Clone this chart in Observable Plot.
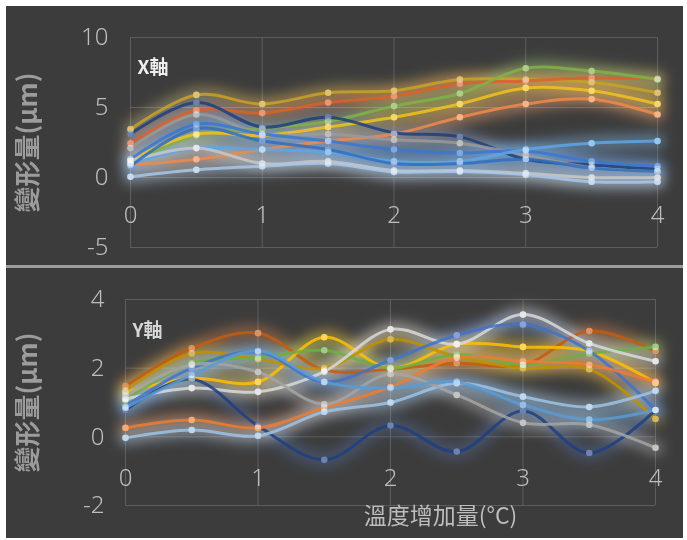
<!DOCTYPE html>
<html>
<head>
<meta charset="utf-8">
<script src="https://cdn.jsdelivr.net/npm/d3@7"></script>
<script src="https://cdn.jsdelivr.net/npm/@observablehq/plot@0.6"></script>
<style>
  html, body { margin: 0; padding: 0; background: #ffffff; }
  #wrap { position: relative; width: 687px; height: 540px; overflow: hidden; background: #ffffff; }
  #top { position: absolute; left: 6px; top: 6px; }
  #sep { position: absolute; left: 6px; top: 265px; width: 677px; height: 3px; background: #9c9c9c; }
  #bottom { position: absolute; left: 6px; top: 268px; }
  svg { display: block; }
</style>
</head>
<body>
<div id="wrap">
  <div id="top"></div>
  <div id="sep"></div>
  <div id="bottom"></div>
</div>
<script>
// ---------- data ----------
const temps = [0, 0.5, 1, 1.5, 2, 2.5, 3, 3.5, 4];

// X軸 panel series
const xNames = ["X1","X2","X3","X4","X5","X6","X7","X8","X9","X10","X11","X12"];
const xColors = ["#c9a227","#d9622b","#7fb34a","#f2c21e","#f08a4b","#1f3f7a","#9a9a9a","#3a78d0","#5ea6e8","#c8c8c8","#a8c8ea","#2f6fc0"];
const xS1  = [3.45, 5.9, 5.25, 6.05, 6.2, 7.0, 7.0, 6.8, 6.05];
const xS2  = [2.45, 4.8, 4.6, 5.35, 5.8, 6.7, 6.9, 7.1, 7.05];
const xS3  = [1.0, 3.0, 3.5, 4.0, 5.1, 6.0, 7.8, 7.6, 7.0];
const xS4  = [1.3, 3.1, 3.0, 3.6, 4.3, 5.25, 6.4, 6.2, 5.25];
const xS5  = [0.9, 1.3, 2.0, 2.6, 3.1, 4.3, 5.25, 5.6, 4.5];
const xS6  = [3.1, 5.35, 3.6, 4.3, 3.2, 2.9, 1.3, 0.9, 0.6];
const xS7  = [2.1, 4.5, 3.1, 3.1, 2.7, 2.45, 1.6, 0.7, 0.43];
const xS8  = [1.3, 3.8, 3.1, 2.6, 2.0, 1.75, 1.9, 1.15, 0.8];
const xS9  = [1.0, 2.1, 2.0, 1.8, 1.15, 1.15, 2.0, 2.45, 2.6];
const xS10 = [1.2, 2.1, 1.0, 1.15, 0.5, 0.5, 0.3, 0.0, 0.0];
const xS11 = [0.05, 0.55, 0.8, 1.0, 0.4, 0.43, 0.2, -0.3, -0.3];
const xS12 = [0.8, 3.5, 2.6, 2.0, 1.0, 1.0, 1.3, 0.67, 0.43];
const xSeries = [xS1,xS2,xS3,xS4,xS5,xS6,xS7,xS8,xS9,xS10,xS11,xS12];

// Y軸 panel series
const yNames = ["Y1","Y2","Y3","Y4","Y5","Y6","Y7","Y8","Y9","Y10","Y11"];
const yColors = ["#c55a11","#ffc000","#bf9000","#70ad47","#d9d9d9","#4472c4","#203f80","#ed7d31","#9dc3e6","#a5a5a5","#5b9bd5"];
const yS1  = [1.48, 2.58, 3.02, 1.95, 1.97, 2.14, 2.09, 3.08, 2.5];
const yS2  = [1.3, 1.7, 1.6, 2.9, 2.0, 2.7, 2.62, 2.5, 1.57];
const yS3  = [1.35, 2.43, 2.26, 2.0, 2.84, 2.33, 2.0, 1.97, 0.52];
const yS4  = [1.07, 2.14, 2.3, 2.52, 2.0, 2.4, 2.1, 2.43, 2.62];
const yS5  = [1.1, 1.42, 1.31, 1.9, 3.13, 2.7, 3.56, 2.72, 2.2];
const yS6  = [0.9, 2.0, 2.47, 1.6, 2.23, 2.96, 3.27, 2.5, 0.78];
const yS7  = [0.78, 1.68, 0.32, -0.67, 0.33, -0.43, 0.75, -0.47, 0.78];
const yS8  = [0.26, 0.49, 0.26, 0.85, 1.45, 2.3, 2.2, 2.1, 1.6];
const yS9  = [-0.03, 0.2, 0.03, 0.73, 1.0, 1.56, 1.17, 0.87, 1.34];
const yS10 = [1.2, 2.1, 1.89, 0.95, 1.83, 1.22, 0.41, 0.35, -0.32];
const yS11 = [0.85, 1.8, 2.5, 1.6, 1.42, 1.6, 0.93, 0.5, 0.78];
const ySeries = [yS1,yS2,yS3,yS4,yS5,yS6,yS7,yS8,yS9,yS10,yS11];

const xTickValues = [0, 1, 2, 3, 4];
const topYTicks = [-5, 0, 5, 10];
const bottomYTicks = [-2, 0, 2, 4];
const topTag = "X軸";
const bottomTag = "Y軸";
const yTitle = "變形量(μm)";
const xTitle = "溫度增加量(°C)";

// ---------- build ----------
function tidy(names, series) {
  const rows = [];
  series.forEach((vals, i) => vals.forEach((v, j) => rows.push({s: names[i], x: temps[j], v})));
  return rows;
}

const numFont = "'Noto Sans', 'DejaVu Sans', sans-serif";
const cjkFont = "'Noto Sans CJK TC', 'Noto Sans CJK SC', sans-serif";
const fmt = d => String(d);

function panel(o) {
  const svg = Plot.plot({
    width: 677,
    height: o.height,
    marginLeft: o.marginLeft,
    marginRight: o.marginRight,
    marginTop: o.marginTop,
    marginBottom: o.marginBottom,
    style: {background: "#3c3c3c", color: "#bdbdbd", fontFamily: numFont, overflow: "visible"},
    x: {domain: [0, 4]},
    y: {domain: o.yDomain},
    color: {domain: o.names, range: o.colors},
    marks: [
      Plot.gridX(xTickValues, {stroke: "#5d5d5d", strokeOpacity: 1, strokeWidth: 1}),
      Plot.gridY(o.yTicks, {stroke: "#5d5d5d", strokeOpacity: 1, strokeWidth: 1}),
      Plot.line(o.rows, {x: "x", y: "v", z: "s", stroke: "s", strokeWidth: 16, strokeOpacity: 0.42, curve: "catmull-rom"}),
      Plot.line(o.rows, {x: "x", y: "v", z: "s", stroke: "s", strokeWidth: 3, strokeOpacity: 0.85, curve: "catmull-rom"}),
      Plot.dot(o.rows, {x: "x", y: "v", fill: "s", r: 3.3}),
      Plot.dot(o.rows, {x: "x", y: "v", fill: "#ffffff", fillOpacity: 0.35, r: 3.3}),
      Plot.axisY(o.yTicks, {tickSize: 0, tickPadding: o.tickPad, fontSize: 24, fill: "#bdbdbd", label: null, fontWeight: 300, tickFormat: fmt}),
      Plot.axisX(xTickValues, {tickSize: 0, tickPadding: 0, dy: o.xdy, fontSize: 24, fill: "#bdbdbd", label: null, fontWeight: 300, tickFormat: fmt}),
      Plot.text([o.tag], {frameAnchor: "top-left", dx: 7, dy: o.tagDy, text: d => d, fontSize: 19, fontWeight: "bold", fill: o.tagColor, fontFamily: cjkFont, textAnchor: "start"}),
      Plot.text([yTitle], {frameAnchor: "left", rotate: -90, dx: o.titleDx, text: d => d, textAnchor: "middle", fontSize: 26, fill: "#9c9c9c", fontWeight: "bold", fontFamily: cjkFont}),
      ...(o.xTitle ? [Plot.text([o.xTitle], {frameAnchor: "bottom", textAnchor: "middle", dx: 50, dy: 18, text: d => d, fontSize: 23, fill: "#bdbdbd", fontFamily: cjkFont})] : [])
    ]
  });
  // glow: blur the wide halo line layer
  const lines = svg.querySelectorAll('g[aria-label="line"]');
  if (lines.length) {
    lines[0].style.filter = "blur(6px)";
    lines[0].style.mixBlendMode = "screen";
  }
  return svg;
}

document.getElementById("top").appendChild(panel({
  rows: tidy(xNames, xSeries), names: xNames, colors: xColors,
  height: 259, marginLeft: 124, marginRight: 26, marginTop: 31, marginBottom: 18,
  yDomain: [-5, 10], yTicks: topYTicks, tickPad: 22, xdy: -42,
  tag: topTag, tagDy: 23, tagColor: "#eeeeee", titleDx: -102
}));

document.getElementById("bottom").appendChild(panel({
  rows: tidy(yNames, ySeries), names: yNames, colors: yColors,
  height: 270, marginLeft: 119, marginRight: 28, marginTop: 31, marginBottom: 33,
  yDomain: [-2, 4], yTicks: bottomYTicks, tickPad: 21, xdy: -37,
  tag: bottomTag, tagDy: 24, tagColor: "#d6d6d6", titleDx: -97, xTitle: xTitle
}));
</script>
</body>
</html>
